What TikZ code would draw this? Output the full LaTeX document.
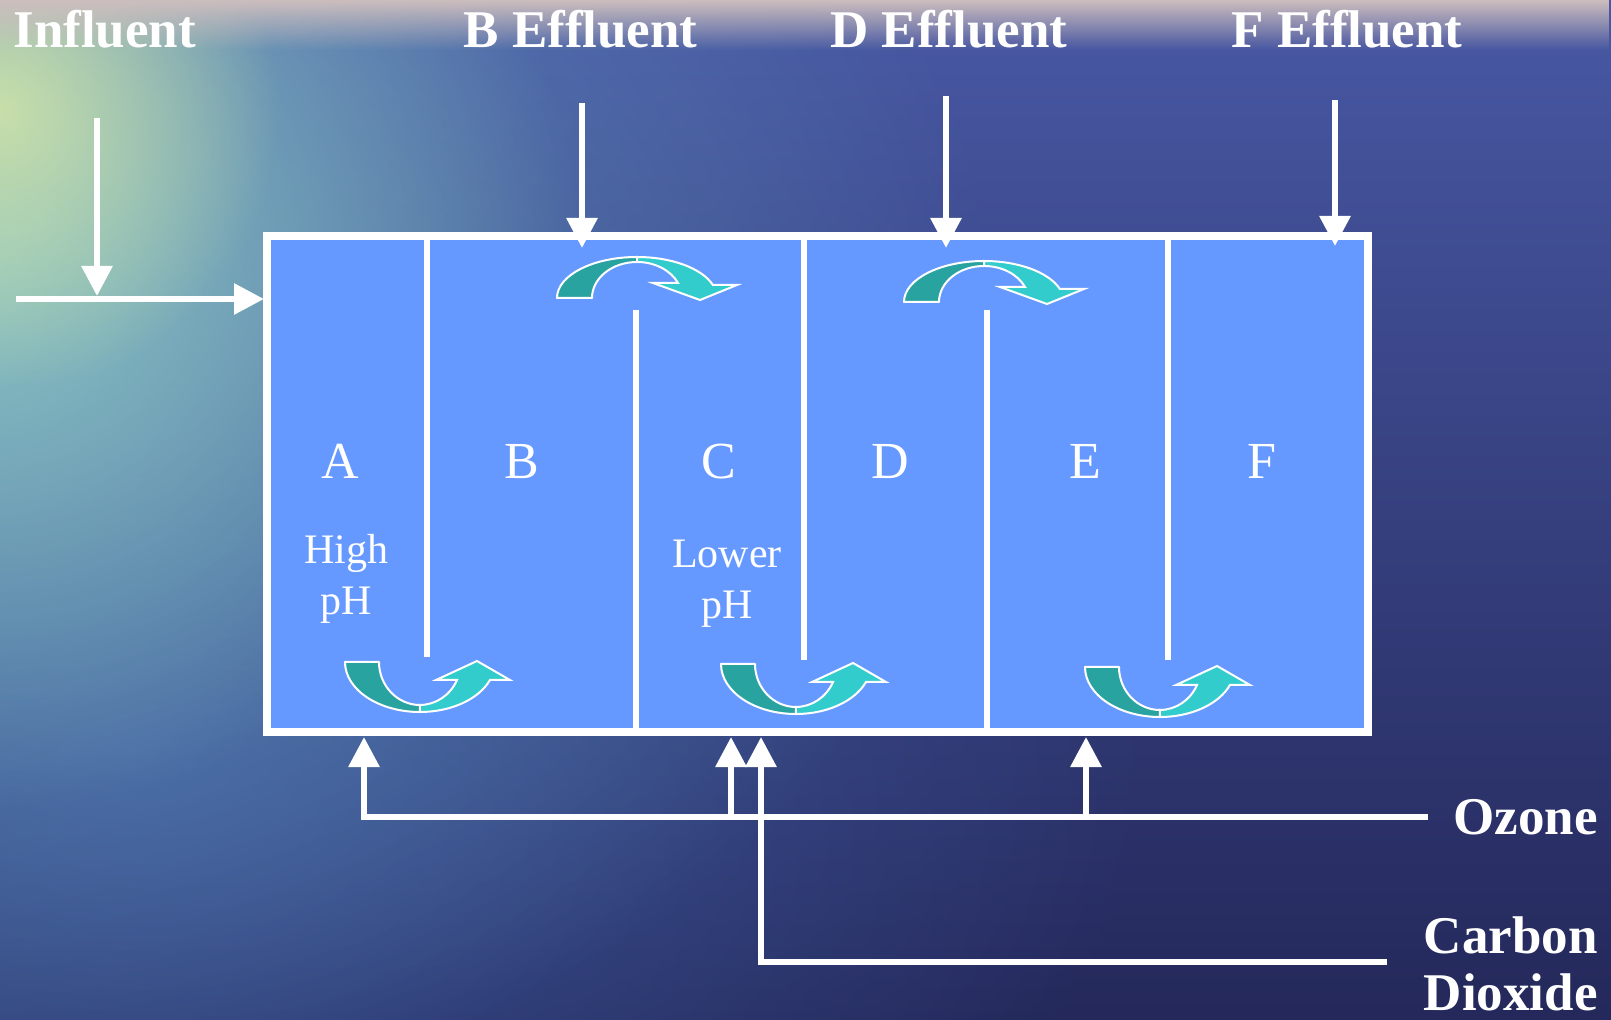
\documentclass[tikz,border=0pt]{standalone}
\usepackage{fontspec}
\setmainfont{Liberation Serif}
\usetikzlibrary{arrows.meta,fadings}
\definecolor{boxblue}{HTML}{6699FF}
\definecolor{darkteal}{HTML}{29A3A0}
\definecolor{lightteal}{HTML}{33CCCC}
\definecolor{bgtop}{HTML}{4858A4}
\definecolor{bgmid}{HTML}{2E3A88}
\definecolor{bgbot}{HTML}{24285A}
\tikzfading[name=glowfade, inner color=transparent!0, outer color=transparent!100]
\tikzfading[name=topfade, top color=transparent!0, bottom color=transparent!100]
\tikzset{
  flow/.style={draw=white, line width=3pt, -{Triangle[length=15pt,width=15pt]}},
  wall/.style={draw=white, line width=3pt},
  cell/.style={text=white, font=\fontsize{26}{30}\selectfont, inner sep=0pt, anchor=base},
  note/.style={text=white, font=\fontsize{21}{25.5}\selectfont, inner sep=0pt, anchor=base},
  title/.style={text=white, font=\fontsize{26.5}{28.5}\selectfont\bfseries, inner sep=0pt},
  back/.style={fill=darkteal, draw=white, line width=1pt, line join=round},
  front/.style={fill=lightteal, draw=white, line width=1pt, line join=miter},
  overarrow/.pic={
    \path[back] (-80,0) arc[start angle=180, end angle=270, x radius=80, y radius=41]
      -- (0,-36) arc[start angle=270, end angle=180, x radius=45, y radius=36] -- cycle;
    \path[front] (0,-41) arc[start angle=270, end angle=341.5, x radius=80, y radius=41]
      -- (100,-13) -- (63,2) -- (16,-15) -- (41,-15)
      arc[start angle=335.4, end angle=270, x radius=45, y radius=36] -- cycle;
  },
  underarrow/.pic={
    \path[back] (-75,0) arc[start angle=180, end angle=90, x radius=75, y radius=50]
      -- (0,43) arc[start angle=90, end angle=180, x radius=41, y radius=43] -- cycle;
    \path[front] (0,50) arc[start angle=90, end angle=21.1, x radius=75, y radius=50]
      -- (90,18) -- (57,-1) -- (16,18) -- (37,18)
      arc[start angle=24.8, end angle=90, x radius=41, y radius=43] -- cycle;
  }
}
\begin{document}
\begin{tikzpicture}[x=0.5pt,y=-0.5pt]
\useasboundingbox (0,0) rectangle (1611,1020);
% ---------- background ----------
\begin{scope}
\clip (0,0) rectangle (1611,1020);
\shade[top color=bgtop, middle color=bgmid, bottom color=bgbot] (0,0) rectangle (1611,1020);
\fill[color={rgb,255:red,66;green,96;blue,165}, opacity=0.8, path fading=glowfade] (150,760) ellipse [x radius=1000, y radius=650];
\fill[color={rgb,255:red,96;green,146;blue,186}, opacity=0.9, path fading=glowfade] (-50,330) ellipse [x radius=1050, y radius=800];
\fill[color={rgb,255:red,145;green,202;blue,195}, opacity=0.9, path fading=glowfade] (-20,250) ellipse [x radius=600, y radius=560];
\fill[color={rgb,255:red,208;green,228;blue,168}, opacity=0.9, path fading=glowfade] (0,110) ellipse [x radius=280, y radius=280];
\fill[color={rgb,255:red,205;green,190;blue,190}, path fading=topfade] (0,0) rectangle (1611,50);
\end{scope}
% ---------- tank ----------
\coordinate (tankNW) at (267,236);
\coordinate (tankSE) at (1368,732);
\path[fill=boxblue] (tankNW) rectangle (tankSE);
\coordinate (w1t) at (427,236); \coordinate (w1b) at (427,657);
\coordinate (w2t) at (636,310); \coordinate (w2b) at (636,732);
\coordinate (w3t) at (804,236); \coordinate (w3b) at (804,660);
\coordinate (w4t) at (987,310); \coordinate (w4b) at (987,732);
\coordinate (w5t) at (1168,236); \coordinate (w5b) at (1168,660);
\draw[wall] (w1t) -- (w1b);
\draw[wall] (w2t) -- (w2b);
\draw[wall] (w3t) -- (w3b);
\draw[wall] (w4t) -- (w4b);
\draw[wall] (w5t) -- (w5b);
\draw[draw=white, line width=4pt] (tankNW) rectangle (tankSE);
% ---------- curved flow arrows ----------
\pic (ov1) at (637,298) {overarrow};
\pic (ov2) at (984,302) {overarrow};
\pic (un1) at (420,662) {underarrow};
\pic (un2) at (796,664) {underarrow};
\pic (un3) at (1160,667) {underarrow};
% ---------- cell labels ----------
\node[cell] (cA) at (340,479) {A};
\node[cell] (cB) at (522,479) {B};
\node[cell] (cC) at (719,479) {C};
\node[cell] (cD) at (890,479) {D};
\node[cell] (cE) at (1085,479) {E};
\node[cell] (cF) at (1262,479) {F};
\node[note] (highph) at (346,564) {\begin{tabular}[t]{@{}c@{}}High\\pH\end{tabular}};
\node[note] (lowph) at (727,568) {\begin{tabular}[t]{@{}c@{}}Lower\\pH\end{tabular}};
% ---------- titles ----------
\node[title, anchor=base west] (influent) at (13,48) {Influent};
\node[title, anchor=base west] (beff) at (463,48) {B Effluent};
\node[title, anchor=base west] (deff) at (830,48) {D Effluent};
\node[title, anchor=base west] (feff) at (1231,48) {F Effluent};
\node[title, anchor=base east] (ozone) at (1598,834) {Ozone};
\node[title, anchor=base east] (co2) at (1598,953) {\begin{tabular}[t]{@{}r@{}}Carbon\\Dioxide\end{tabular}};
% ---------- inlet / outlet arrows ----------
\coordinate (infTop) at (97,118);
\coordinate (infJoin) at (97,296);
\coordinate (infStart) at (16,299);
\coordinate (tankIn) at (264,299);
\draw[flow] (infTop) -- (infJoin);
\draw[flow] (infStart) -- (tankIn);
\coordinate (bTop) at (582,103); \coordinate (bIn) at (582,248);
\coordinate (dTop) at (946,96);  \coordinate (dIn) at (946,248);
\coordinate (fTop) at (1335,100); \coordinate (fIn) at (1335,246);
\draw[flow] (bTop) -- (bIn);
\draw[flow] (dTop) -- (dIn);
\draw[flow] (fTop) -- (fIn);
% ---------- gas feeds ----------
\coordinate (ozEnd) at (1428,817);
\coordinate (ozA) at (364,817); \coordinate (ozAin) at (364,737);
\coordinate (ozC) at (731,817); \coordinate (ozCin) at (731,737);
\coordinate (ozE) at (1086,817); \coordinate (ozEin) at (1086,737);
\coordinate (coEnd) at (1387,962);
\coordinate (coC) at (761,962); \coordinate (coCin) at (761,737);
\draw[flow] (coEnd) -- (coC) -- (coCin);
\draw[flow] (ozEnd) -- (ozA) -- (ozAin);
\draw[flow] (ozC) -- (ozCin);
\draw[flow] (ozE) -- (ozEin);
\end{tikzpicture}
\end{document}
